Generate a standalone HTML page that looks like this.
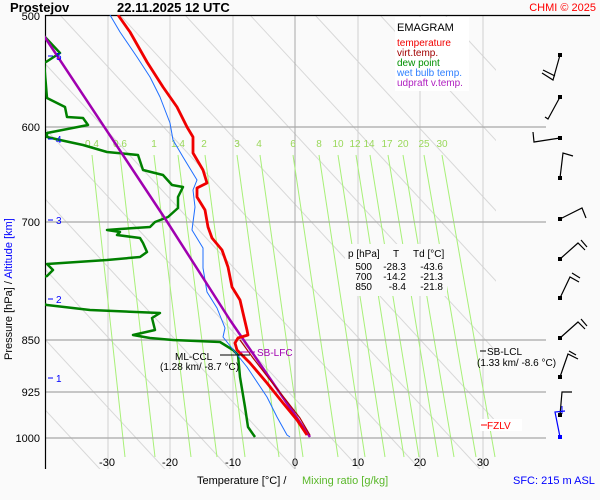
<!DOCTYPE html>
<html><head><meta charset="utf-8"><style>
html,body{margin:0;padding:0;background:#fafafa;}
svg{display:block;font-family:"Liberation Sans",Arial,sans-serif;}
</style></head><body>
<svg width="600" height="500" viewBox="0 0 600 500" xmlns="http://www.w3.org/2000/svg">
<rect width="600" height="500" fill="#fafafa"/>
<defs><clipPath id="pa"><rect x="45" y="15" width="451" height="454"/></clipPath></defs>
<g clip-path="url(#pa)">
<!-- dry adiabats -->
<g stroke="#d8d8d8" stroke-width="1">
<line x1="-60" y1="15" x2="370" y2="480"/>
<line x1="0" y1="15" x2="430" y2="480"/>
<line x1="60" y1="15" x2="490" y2="480"/>
<line x1="120" y1="15" x2="550" y2="480"/>
<line x1="185" y1="15" x2="615" y2="480"/>
<line x1="250" y1="15" x2="680" y2="480"/>
<line x1="315" y1="15" x2="745" y2="480"/>
<line x1="380" y1="15" x2="810" y2="480"/>
<line x1="445" y1="15" x2="875" y2="480"/>
<line x1="-125" y1="15" x2="305" y2="480"/>
<line x1="-190" y1="15" x2="240" y2="480"/>
<line x1="-255" y1="15" x2="175" y2="480"/>
<line x1="-320" y1="15" x2="110" y2="480"/>
</g>
<!-- vertical isotherms -->
<g stroke="#d0d0d0" stroke-width="1">
<line x1="108" y1="15" x2="108" y2="469"/>
<line x1="170" y1="15" x2="170" y2="469"/>
<line x1="233" y1="15" x2="233" y2="469"/>
<line x1="358" y1="15" x2="358" y2="469"/>
<line x1="420" y1="15" x2="420" y2="469"/>
<line x1="483" y1="15" x2="483" y2="469"/>
</g>
<line x1="295" y1="15" x2="295" y2="469" stroke="#a8a8a8"/>
<!-- mixing ratio lines -->
<g stroke="#a8f078" stroke-width="1">
<line x1="92" y1="155" x2="125" y2="457"/>
<line x1="120" y1="155" x2="155" y2="457"/>
<line x1="154" y1="155" x2="191" y2="457"/>
<line x1="178" y1="155" x2="217" y2="457"/>
<line x1="205" y1="155" x2="245" y2="457"/>
<line x1="237" y1="155" x2="279" y2="457"/>
<line x1="260" y1="155" x2="303" y2="457"/>
<line x1="293" y1="155" x2="338" y2="457"/>
<line x1="319" y1="155" x2="365" y2="457"/>
<line x1="338" y1="155" x2="385" y2="457"/>
<line x1="356" y1="155" x2="404" y2="457"/>
<line x1="370" y1="155" x2="419" y2="457"/>
<line x1="388" y1="155" x2="438" y2="457"/>
<line x1="403" y1="155" x2="454" y2="457"/>
<line x1="424" y1="155" x2="476" y2="457"/>
<line x1="442" y1="155" x2="495" y2="457"/>
</g>
</g>
<!-- isobars -->
<g stroke="#a8a8a8" stroke-width="1.2">
<line x1="45" y1="127" x2="546" y2="127"/>
<line x1="45" y1="222" x2="546" y2="222"/>
<line x1="45" y1="340" x2="546" y2="340"/>
<line x1="45" y1="392" x2="546" y2="392"/>
<line x1="45" y1="438" x2="546" y2="438"/>
</g>
<line x1="45" y1="15.5" x2="590" y2="15.5" stroke="#000" stroke-width="1.2"/>
<line x1="45.5" y1="15" x2="45.5" y2="469" stroke="#000" stroke-width="1.2"/>
<!-- mixing ratio labels -->
<g fill="#9ad85a" font-size="10" text-anchor="middle">
<text x="92" y="147">0.4</text><text x="120" y="147">0.6</text><text x="154" y="147">1</text>
<text x="178" y="147">1.4</text><text x="204" y="147">2</text><text x="237" y="147">3</text>
<text x="259" y="147">4</text><text x="293" y="147">6</text><text x="319" y="147">8</text>
<text x="338" y="147">10</text><text x="355" y="147">12</text><text x="369" y="147">14</text>
<text x="387" y="147">17</text><text x="403" y="147">20</text><text x="424" y="147">25</text>
<text x="442" y="147">30</text>
</g>
<g clip-path="url(#pa)" fill="none" stroke-linejoin="round">
<polyline stroke="#008000" stroke-width="2.5" points="45,37 60,53 46,62 44,62 47,98 65,107 67,117 83,118 88,125 47,133 47,137 60,140 83,145 107,152 138,155 143,170 163,175 172,185 183,187 178,197 178,208 168,217 155,222 150,227 120,229 107,230 120,232 117,235 140,238 143,243 147,252 140,257 107,260 47,264 53,270 47,276 30,280 30,300 47,305 90,310 160,313 152,318 155,330 133,335 150,338 173,340 220,342 233,350 238,355 240,377 245,407 248,427 255,437"/>
<polyline stroke="#1e6eff" stroke-width="1" points="110,15 120,32 137,57 150,77 160,97 170,123 173,140 183,157 197,180 193,190 195,207 192,230 203,248 203,268 207,292 217,308 225,328 223,337 227,342 247,367 267,397 277,417 287,435 290,437"/>
<polyline stroke="#a000b0" stroke-width="2.5" points="44,36 166,220 230,320 310,437"/>
<polyline stroke="#b00000" stroke-width="1.2" points="240,340 253,358 270,380 286,400 300,418 310,435"/>
<polyline stroke="#f00000" stroke-width="2.8" points="118,15 130,32 147,62 163,87 177,107 187,127 193,137 193,153 203,170 207,183 197,188 197,197 205,210 208,227 212,238 222,250 228,267 232,287 240,300 243,313 247,330 248,335 238,338 235,343 237,350 250,363 267,383 283,403 297,420 307,435"/>
</g>
<!-- annotations -->
<line x1="220" y1="355" x2="250" y2="355" stroke="#000"/>
<text x="175" y="360" font-size="10">ML-CCL</text>
<text x="160" y="370" font-size="10">(1.28 km/ -8.7 °C)</text>
<line x1="240" y1="352" x2="255" y2="352" stroke="#a000b0"/>
<text x="257" y="356" font-size="10" fill="#a000b0">SB-LFC</text>
<line x1="480" y1="351" x2="486" y2="351" stroke="#000"/>
<text x="487" y="355" font-size="10">SB-LCL</text>
<text x="477" y="366" font-size="10">(1.33 km/ -8.6 °C)</text>
<rect x="480" y="419" width="42" height="12" fill="#fff"/>
<line x1="481" y1="425" x2="487" y2="425" stroke="#f00"/>
<text x="487" y="429" font-size="10" fill="#f00">FZLV</text>
<!-- legend -->
<rect x="395" y="17" width="74" height="74" fill="#fff"/>
<text x="397" y="31" font-size="11">EMAGRAM</text>
<g font-size="10">
<text x="397" y="46" fill="#f00000">temperature</text>
<text x="397" y="56" fill="#a00000">virt.temp.</text>
<text x="397" y="66" fill="#009000">dew point</text>
<text x="397" y="76" fill="#3080ff">wet bulb temp.</text>
<text x="397" y="86" fill="#b020c0">udpraft v.temp.</text>
</g>
<!-- table -->
<rect x="345" y="244" width="102" height="52" fill="#fafafa"/>
<g font-size="10">
<text x="348" y="257">p [hPa]</text><text x="393" y="257">T</text><text x="413" y="257">Td [°C]</text>
<g text-anchor="end">
<text x="372" y="270">500</text><text x="406" y="270">-28.3</text><text x="443" y="270">-43.6</text>
<text x="372" y="280">700</text><text x="406" y="280">-14.2</text><text x="443" y="280">-21.3</text>
<text x="372" y="290">850</text><text x="406" y="290">-8.4</text><text x="443" y="290">-21.8</text>
</g></g>
<!-- altitude markers -->
<g fill="#0000ff" font-size="10" stroke="#0000ff">
<line x1="48" y1="56" x2="53" y2="56"/><text x="56" y="60" stroke="none">5</text>
<line x1="48" y1="139" x2="53" y2="139"/><text x="56" y="143" stroke="none">4</text>
<line x1="48" y1="220" x2="53" y2="220"/><text x="56" y="224" stroke="none">3</text>
<line x1="48" y1="299" x2="53" y2="299"/><text x="56" y="303" stroke="none">2</text>
<line x1="48" y1="378" x2="53" y2="378"/><text x="56" y="382" stroke="none">1</text>
</g>
<!-- axis labels -->
<g font-size="11" text-anchor="end">
<text x="40" y="20">500</text><text x="40" y="131">600</text><text x="40" y="226">700</text>
<text x="40" y="344">850</text><text x="40" y="396">925</text><text x="40" y="442">1000</text>
</g>
<g font-size="11" text-anchor="middle">
<text x="107" y="466">-30</text><text x="170" y="466">-20</text><text x="233" y="466">-10</text>
<text x="295" y="466">0</text><text x="358" y="466">10</text><text x="420" y="466">20</text><text x="483" y="466">30</text>
</g>
<text x="197" y="484" font-size="11">Temperature [°C]  /</text>
<text x="302" y="484" font-size="11" fill="#5ab82a">Mixing ratio [g/kg]</text>
<text x="513" y="484" font-size="11" fill="#0000ff">SFC: 215 m ASL</text>
<text transform="translate(12,360) rotate(-90)" font-size="11">Pressure [hPa]  /  <tspan fill="#0000ff">Altitude [km]</tspan></text>
<text x="10" y="12" font-size="13" font-weight="bold">Prostejov</text>
<text x="117" y="12" font-size="13" font-weight="bold">22.11.2025 12 UTC</text>
<text x="596" y="11" font-size="11" fill="#f00" text-anchor="end">CHMI © 2025</text>
<!-- wind barbs -->
<g stroke="#000" stroke-width="1.2" fill="none">
<polyline points="560,55 553,80 542,73"/><line x1="555" y1="76" x2="543" y2="70"/>
<polyline points="560,97 548,119 545,117"/>
<polyline points="560,138 534,142 533,132"/>
<polyline points="560,178 563,153 573,156"/>
<polyline points="560,219 582,208 586,218"/>
<polyline points="560,259 578,243 585,250"/><line x1="581" y1="240" x2="587" y2="247"/>
<polyline points="560,298 570,277 579,282"/><line x1="572" y1="273" x2="580" y2="278"/>
<polyline points="560,338 578,322 585,329"/><line x1="581" y1="319" x2="587" y2="326"/>
<polyline points="560,377 568,354 578,359"/><line x1="569" y1="351" x2="576" y2="355"/>
<polyline points="560,415 562,392 572,392"/>
</g>
<polyline points="560,437 555,412 565,411" stroke="#0000ff" stroke-width="1.2" fill="none"/>
<line x1="562" y1="406" x2="562" y2="414" stroke="#0000ff"/>
<g fill="#000">
<rect x="558" y="53" width="4" height="4"/><rect x="558" y="95" width="4" height="4"/>
<rect x="558" y="136" width="4" height="4"/><rect x="558" y="176" width="4" height="4"/>
<rect x="558" y="217" width="4" height="4"/><rect x="558" y="257" width="4" height="4"/>
<rect x="558" y="296" width="4" height="4"/><rect x="558" y="336" width="4" height="4"/>
<rect x="558" y="375" width="4" height="4"/><rect x="558" y="413" width="4" height="4"/>
</g>
<rect x="558" y="435" width="4" height="4" fill="#0000ff"/>
</svg>
</body></html>
